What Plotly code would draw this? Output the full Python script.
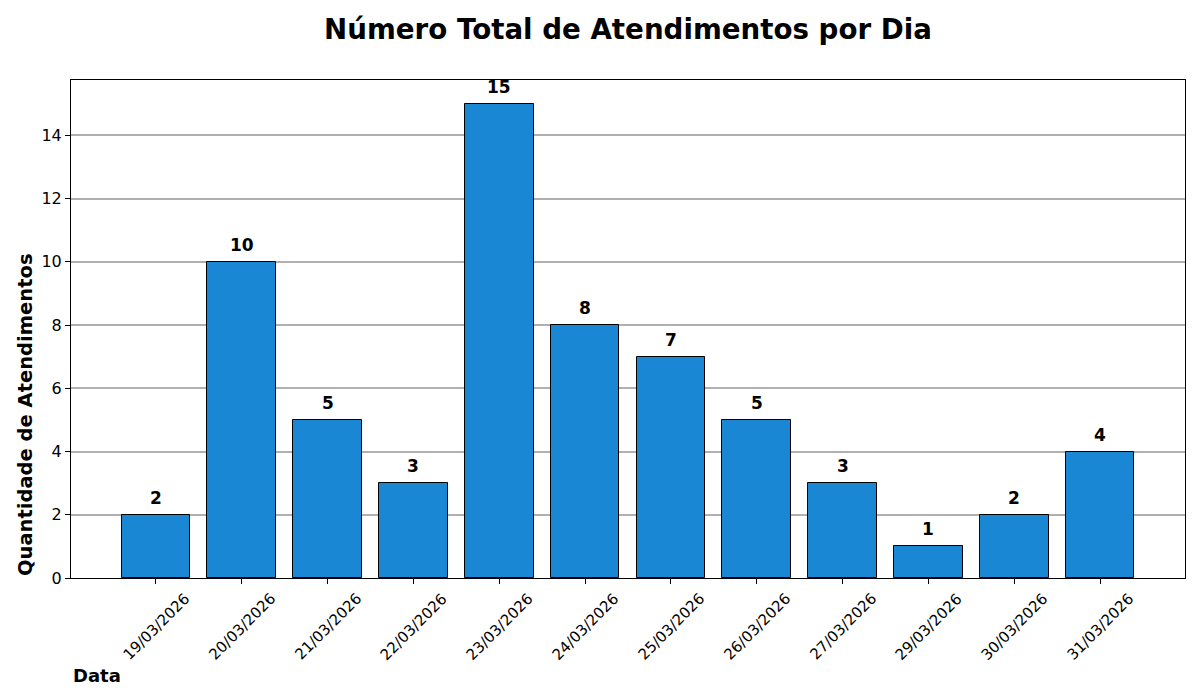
import plotly.graph_objects as go

datas = ["19/03/2026", "20/03/2026", "21/03/2026", "22/03/2026", "23/03/2026", "24/03/2026",
         "25/03/2026", "26/03/2026", "27/03/2026", "29/03/2026", "30/03/2026", "31/03/2026"]
atendimentos = [2, 10, 5, 3, 15, 8, 7, 5, 3, 1, 2, 4]

FONT = "DejaVu Sans"
pos = list(range(len(datas)))

fig = go.Figure()
fig.add_trace(go.Bar(
    x=pos, y=atendimentos, width=0.8,
    marker=dict(color="#1a87d4", line=dict(color="black", width=1)),
))

# value labels above bars
for i, v in zip(pos, atendimentos):
    fig.add_annotation(x=i, y=v, xref="x", yref="y", text=f"<b>{v}</b>", showarrow=False,
                       xanchor="center", yanchor="bottom", yshift=5,
                       font=dict(family=FONT, size=17, color="black"))

# rotated tick labels centred under ticks (matplotlib style)
for i, d in zip(pos, datas):
    fig.add_annotation(x=i, y=0, xref="x", yref="paper", text=d, showarrow=False,
                       textangle=-45, xanchor="center", yanchor="top", yshift=-9,
                       font=dict(family=FONT, size=15, color="black"))

fig.update_layout(
    width=1200, height=700,
    paper_bgcolor="white", plot_bgcolor="white",
    margin=dict(l=71, r=15, t=80, b=122),
    font=dict(family=FONT, color="black"),
    title=dict(text="<b>Número Total de Atendimentos por Dia</b>", xref="paper", x=0.5, xanchor="center",
               y=1 - 29/700, yanchor="middle", font=dict(size=27.7, family=FONT)),
    showlegend=False,
    bargap=0,
)
fig.update_xaxes(
    range=[-0.99, 11.99], tickmode="array", tickvals=pos, ticktext=[""] * len(pos),
    ticks="outside", ticklen=5, tickcolor="black",
    showline=True, linecolor="black", linewidth=1, mirror=True, showgrid=False, zeroline=False,
)
fig.update_yaxes(
    range=[0, 15.75], tickvals=[0, 2, 4, 6, 8, 10, 12, 14], tickfont=dict(size=16),
    ticks="outside", ticklen=5, tickcolor="black",
    showline=True, linecolor="black", linewidth=1, mirror=True,
    showgrid=True, gridcolor="#b0b0b0", gridwidth=1.6, zeroline=False, layer="above traces",
)
# y-axis title aligned to the bottom of the axes
fig.add_annotation(text="<b>Quantidade de Atendimentos</b>", xref="paper", yref="paper",
                   x=0, y=0, xshift=-46, xanchor="center", yanchor="bottom", textangle=-90,
                   showarrow=False, font=dict(size=19.5, family=FONT))
# x-axis title aligned left
fig.add_annotation(text="<b>Data</b>", xref="paper", yref="paper", x=0, y=-97/498,
                   xanchor="left", yanchor="middle", showarrow=False, font=dict(size=18, family=FONT))

fig.write_html("out.html")
